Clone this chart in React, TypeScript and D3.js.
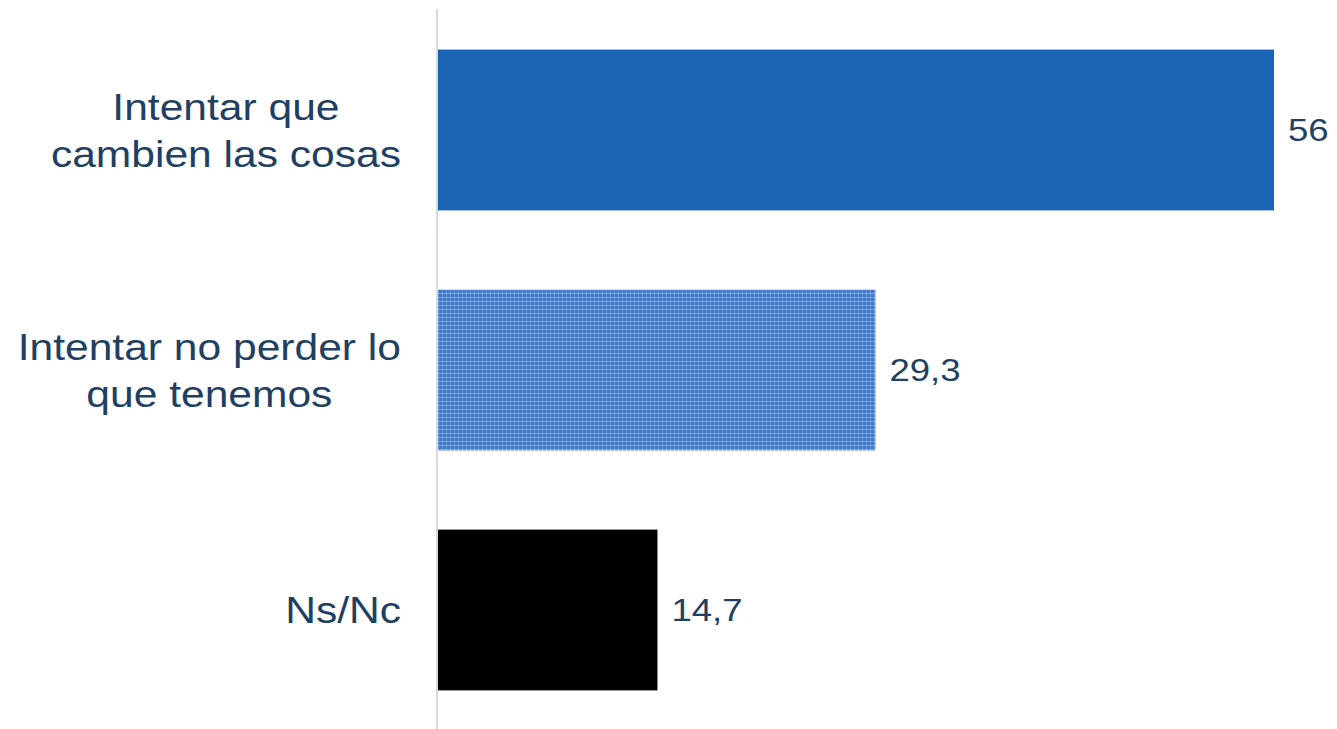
import React, { useEffect, useRef } from 'react';
import * as d3 from 'd3';

const categories = ['Intentar que\ncambien las cosas', 'Intentar no perder lo\nque tenemos', 'Ns/Nc'];
const values = [56, 29.3, 14.7];
const valueLabels = ['56', '29,3', '14,7'];

const WIDTH = 1337;
const HEIGHT = 729;
const TEXT_COLOR = '#213f63';

const App: React.FC = () => {
  const svgRef = useRef<SVGSVGElement>(null);

  useEffect(() => {
    if (!svgRef.current) return;
    const svg = d3.select(svgRef.current);
    svg.selectAll('*').remove();

    // hatched fill for the second bar
    const defs = svg.append('defs');
    const pat = defs
      .append('pattern')
      .attr('id', 'grid')
      .attr('patternUnits', 'userSpaceOnUse')
      .attr('width', 4)
      .attr('height', 4);
    pat.append('rect').attr('width', 4).attr('height', 4).attr('fill', '#4579c6');
    pat.append('rect').attr('x', 0).attr('y', 1).attr('width', 4).attr('height', 1).attr('fill', '#76a2de');
    pat.append('rect').attr('x', 2).attr('y', 0).attr('width', 1).attr('height', 4).attr('fill', '#6394d8');
    pat.append('rect').attr('x', 2).attr('y', 1).attr('width', 1).attr('height', 1).attr('fill', '#9fbfec');

    const fills = ['#1b63b5', 'url(#grid)', '#000000'];

    const x = d3.scaleLinear().domain([0, 56]).range([438, 1274]);
    const y = d3
      .scaleBand<string>()
      .domain(categories)
      .range([9, HEIGHT])
      .paddingInner(0.33)
      .paddingOuter(0.165);

    // axis line
    svg
      .append('line')
      .attr('x1', 437)
      .attr('x2', 437)
      .attr('y1', 9)
      .attr('y2', HEIGHT)
      .attr('stroke', '#d9d9d9')
      .attr('stroke-width', 2);

    // bars
    svg
      .selectAll('.bar')
      .data(values)
      .enter()
      .append('rect')
      .attr('class', 'bar')
      .attr('x', x(0))
      .attr('y', (d, i) => y(categories[i])! + 1)
      .attr('width', d => x(d) - x(0))
      .attr('height', y.bandwidth())
      .attr('fill', (d, i) => fills[i]);

    // value labels
    values.forEach((v, i) => {
      const cy = y(categories[i])! + y.bandwidth() / 2 + 1;
      svg
        .append('g')
        .attr('transform', `translate(${x(v) + 14}, ${cy + 11}) scale(1.18,1)`)
        .append('text')
        .attr('font-family', 'Liberation Sans, Arial, sans-serif')
        .attr('font-size', 31)
        .attr('fill', TEXT_COLOR)
        .text(valueLabels[i]);
    });

    // category labels, lines centred, block right-aligned at 400
    categories.forEach(cat => {
      const lines = cat.split('\n');
      const cy = y(cat)! + y.bandwidth() / 2 + 1;
      const lh = 47;
      const firstBase = cy + 13.5 - ((lines.length - 1) * lh) / 2;
      const g = svg
        .append('g')
        .attr('transform', `translate(401, 0) scale(1.135,1)`);
      const texts = lines.map((ln, j) =>
        g
          .append('text')
          .attr('font-family', 'Liberation Sans, Arial, sans-serif')
          .attr('font-size', 37.5)
          .attr('fill', TEXT_COLOR)
          .attr('text-anchor', 'middle')
          .attr('y', firstBase + j * lh)
          .text(ln)
      );
      const maxW = d3.max(texts, t => (t.node() as SVGTextElement).getComputedTextLength()) || 0;
      texts.forEach(t => t.attr('x', -maxW / 2));
    });
  }, []);

  return (
    <svg
      ref={svgRef}
      width={WIDTH}
      height={HEIGHT}
      style={{ position: 'absolute', left: 0, top: 0, background: '#fff' }}
    />
  );
};

export default App;
